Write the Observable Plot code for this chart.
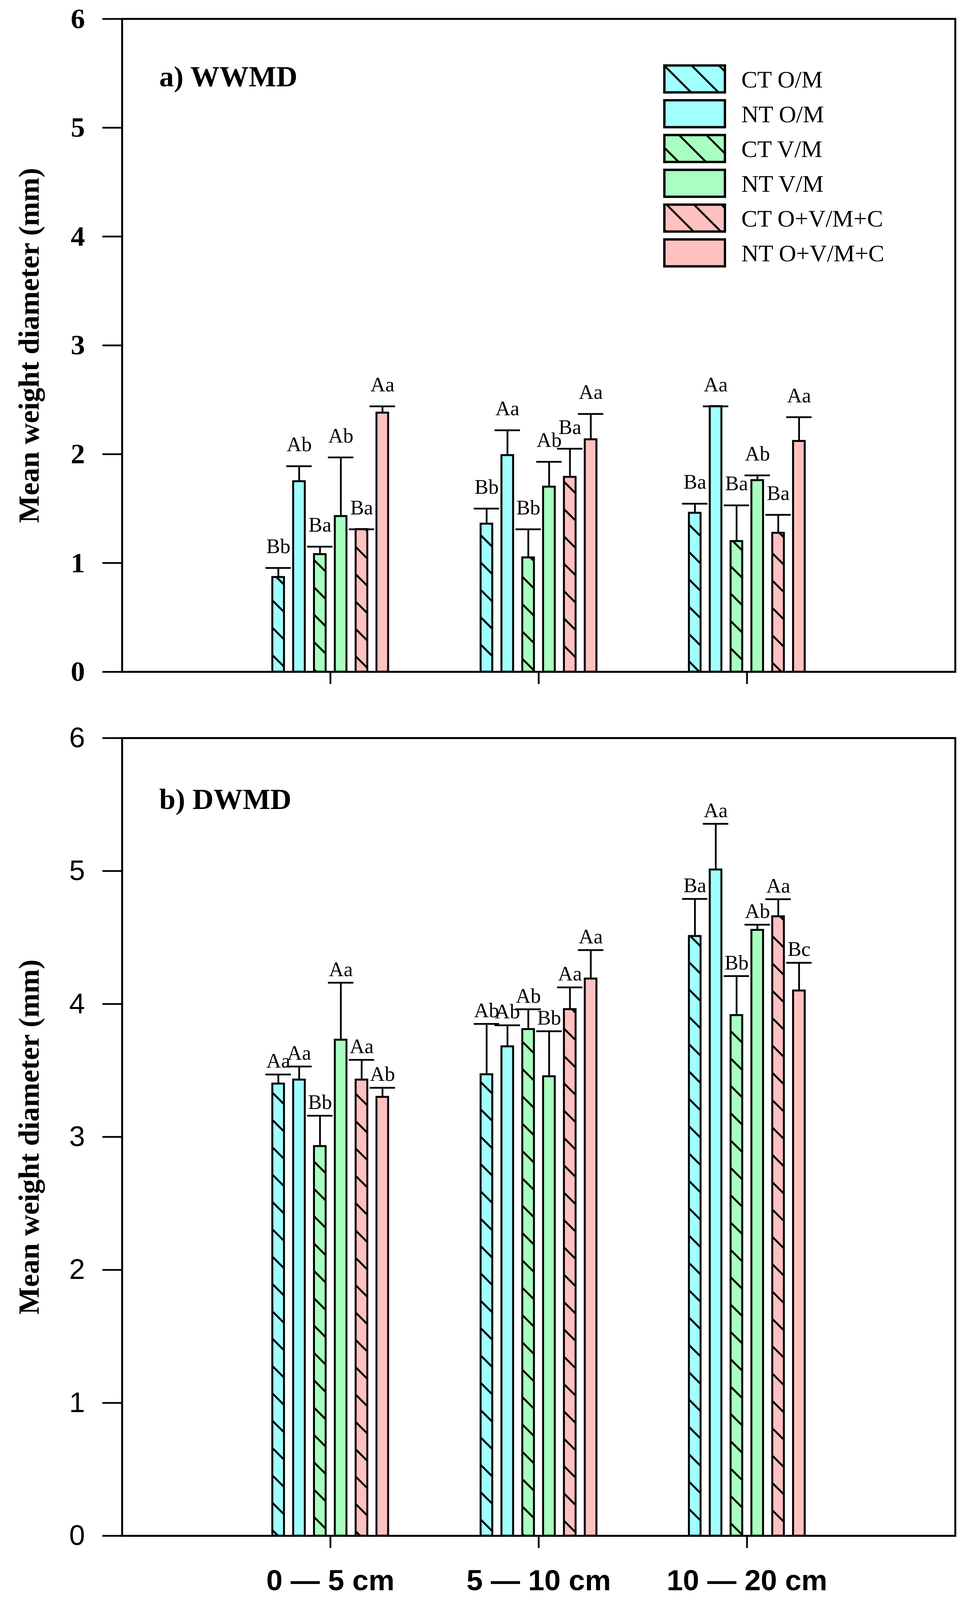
<!DOCTYPE html>
<html>
<head>
<meta charset="utf-8">
<script src="https://cdn.jsdelivr.net/npm/d3@7"></script>
<script src="https://cdn.jsdelivr.net/npm/@observablehq/plot@0.6"></script>
<style>
  html, body { margin: 0; padding: 0; background: #fff; overflow: hidden; }
  #wrap { position: relative; width: 2477px; background: #fff; overflow: hidden; }
  #top, #bottom, #legend { position: absolute; left: 0; }
  #top { top: 0; }
  #top svg, #bottom svg { display: block; }
</style>
</head>
<body>
<svg width="0" height="0" style="position:absolute;left:0;top:0">
  <defs>
    <pattern id="hatch" patternUnits="userSpaceOnUse" width="70" height="70">
      <path d="M0,0L70,70M-70,0L70,140M0,-70L140,70" stroke="black" stroke-width="5" fill="none"/>
    </pattern>
  </defs>
</svg>
<div id="wrap">
  <div id="top"></div>
  <div id="bottom"></div>
  <div id="legend"></div>
</div>
<script>
// ---------------- data ----------------
const groups = ["0 — 5 cm", "5 — 10 cm", "10 — 20 cm"];
const series = ["CT O/M", "NT O/M", "CT V/M", "NT V/M", "CT O+V/M+C", "NT O+V/M+C"];
const hatchedSeries = ["CT O/M", "CT V/M", "CT O+V/M+C"];
const seriesColors = ["#a0ffff", "#a0ffff", "#a8ffc0", "#a8ffc0", "#ffc0c0", "#ffc0c0"];
const yTicks = [0, 1, 2, 3, 4, 5, 6];
const yTitle = "Mean weight diameter (mm)";

// a) WWMD  (rows = depth groups, columns = series)
const wwmdMean = [
  [0.87, 1.75, 1.08, 1.43, 1.31, 2.38],
  [1.36, 1.99, 1.05, 1.70, 1.79, 2.135],
  [1.46, 2.44, 1.20, 1.76, 1.276, 2.12]
];
const wwmdErr = [
  [0.085, 0.14, 0.07, 0.54, 0.0, 0.06],
  [0.14, 0.23, 0.26, 0.23, 0.26, 0.235],
  [0.085, 0.0, 0.33, 0.045, 0.167, 0.22]
];
const wwmdLetters = [
  ["Bb", "Ab", "Ba", "Ab", "Ba", "Aa"],
  ["Bb", "Aa", "Bb", "Ab", "Ba", "Aa"],
  ["Ba", "Aa", "Ba", "Ab", "Ba", "Aa"]
];

// b) DWMD
const dwmdMean = [
  [3.40, 3.43, 2.93, 3.73, 3.43, 3.30],
  [3.47, 3.68, 3.81, 3.455, 3.96, 4.19],
  [4.51, 5.01, 3.915, 4.556, 4.658, 4.10]
];
const dwmdErr = [
  [0.07, 0.10, 0.23, 0.43, 0.15, 0.07],
  [0.38, 0.16, 0.15, 0.34, 0.165, 0.215],
  [0.28, 0.345, 0.295, 0.04, 0.13, 0.21]
];
const dwmdLetters = [
  ["Aa", "Aa", "Bb", "Aa", "Aa", "Ab"],
  ["Ab", "Ab", "Ab", "Bb", "Aa", "Aa"],
  ["Ba", "Aa", "Bb", "Ab", "Aa", "Bc"]
];

// ---------------- layout helpers ----------------
const SERIF = "'Liberation Serif', 'Times New Roman', serif";
const SANS = "'Liberation Sans', Arial, sans-serif";
const PITCH = 0.1, BAR_HALF = 0.028, CAP_HALF = 0.061;
// fit the 4277-px-tall design into the visible viewport height
const VH = window.innerHeight || 4277;
const k = Math.min(1, VH / 4277);
const wrap = document.getElementById("wrap");
wrap.style.height = Math.round(4277 * k) + "px";

function buildRows(means, errs, letters) {
  const rows = [];
  groups.forEach((g, gi) => {
    series.forEach((s, si) => {
      rows.push({
        group: g, series: s,
        pos: gi + 1 + (si - 2.5) * PITCH,
        mean: means[gi][si],
        top: means[gi][si] + errs[gi][si],
        letter: letters[gi][si],
        color: seriesColors[si],
        hatched: hatchedSeries.includes(s)
      });
    });
  });
  return rows;
}

function panel({rows, title, height, marginTop, marginBottom, tickFont, tickWeight, xLabels, letterDy, titleDy}) {
  return Plot.plot({
    width: 2477,
    height: Math.round(height * k),
    marginLeft: 312,
    marginRight: 33,
    marginTop: marginTop * k,
    marginBottom: marginBottom * k,
    x: {domain: [0, 4]},
    y: {domain: [0, 6]},
    color: {type: "identity"},
    style: {background: "white", color: "black", fontFamily: SERIF, overflow: "visible"},
    marks: [
      Plot.rect(rows, {x1: d => d.pos - BAR_HALF, x2: d => d.pos + BAR_HALF, y1: 0, y2: "mean", fill: "color"}),
      Plot.rect(rows.filter(d => d.hatched), {x1: d => d.pos - BAR_HALF, x2: d => d.pos + BAR_HALF, y1: 0, y2: "mean", fill: "url(#hatch)"}),
      Plot.rect(rows, {x1: d => d.pos - BAR_HALF, x2: d => d.pos + BAR_HALF, y1: 0, y2: "mean", fill: "none", stroke: "black", strokeWidth: 5}),
      Plot.ruleX(rows, {x: "pos", y1: "mean", y2: "top", stroke: "black", strokeWidth: 4.5}),
      Plot.ruleY(rows, {y: "top", x1: d => d.pos - CAP_HALF, x2: d => d.pos + CAP_HALF, stroke: "black", strokeWidth: 4.5}),
      Plot.text(rows, {x: "pos", y: "top", text: "letter", dy: letterDy * k, lineAnchor: "bottom", textAnchor: "middle",
        fontSize: 55 * k, fontFamily: SERIF, fontWeight: "normal", fill: "black"}),
      Plot.frame({stroke: "black", strokeWidth: 5}),
      Plot.axisY({ticks: yTicks, tickSize: 50, tickPadding: 45, strokeWidth: 4.5, tickFormat: d => String(d),
        fontSize: 76 * k, fontFamily: tickFont, fontWeight: tickWeight, label: null}),
      Plot.axisX({ticks: [1, 2, 3], tickSize: 33 * k, tickPadding: 57 * k, strokeWidth: 4.5,
        tickFormat: xLabels ? (d => groups[d - 1]) : (() => ""),
        fontSize: 78 * k, fontFamily: SANS, fontWeight: "bold", label: null}),
      Plot.text([title], {frameAnchor: "top-left", dx: 95, dy: titleDy * k, lineAnchor: "bottom",
        textAnchor: "start", fontSize: 78 * k, fontWeight: "bold", fontFamily: SERIF, fill: "black"}),
      Plot.text([yTitle], {frameAnchor: "left", rotate: -90, dx: -237, textAnchor: "middle", lineAnchor: "middle",
        fontSize: 78 * k, fontWeight: "bold", fontFamily: SERIF, fill: "black"})
    ]
  });
}

document.getElementById("top").appendChild(panel({
  rows: buildRows(wwmdMean, wwmdErr, wwmdLetters),
  title: "a) WWMD",
  height: 1900, marginTop: 50, marginBottom: 105,
  tickFont: SERIF, tickWeight: "bold", xLabels: false, letterDy: -40, titleDy: 180
}));

const bottomDiv = document.getElementById("bottom");
bottomDiv.style.top = Math.round(1900 * k) + "px";
bottomDiv.appendChild(panel({
  rows: buildRows(dwmdMean, dwmdErr, dwmdLetters),
  title: "b) DWMD",
  height: 2377, marginTop: 72, marginBottom: 172,
  tickFont: SANS, tickWeight: "normal", xLabels: true, letterDy: -18, titleDy: 190
}));

// ---------------- legend ----------------
const legendDiv = document.getElementById("legend");
legendDiv.style.left = "1690px";
legendDiv.style.top = Math.round(165 * k) + "px";
const lg = d3.select(legendDiv).append("svg").attr("width", 700).attr("height", 580 * k).style("display", "block");
series.forEach((s, i) => {
  const y = 10 * k + i * 93 * k;
  const h = 72 * k;
  lg.append("rect").attr("x", 10).attr("y", y).attr("width", 155).attr("height", h)
    .attr("fill", seriesColors[i]);
  if (hatchedSeries.includes(s)) {
    lg.append("rect").attr("x", 10).attr("y", y).attr("width", 155).attr("height", h)
      .attr("fill", "url(#hatch)");
  }
  lg.append("rect").attr("x", 10).attr("y", y).attr("width", 155).attr("height", h)
    .attr("fill", "none").attr("stroke", "black").attr("stroke-width", 6);
  lg.append("text").attr("x", 207).attr("y", y + h / 2).attr("dy", "0.35em")
    .attr("font-family", SERIF).attr("font-size", 64 * k).attr("fill", "black").text(s);
});
</script>
</body>
</html>
